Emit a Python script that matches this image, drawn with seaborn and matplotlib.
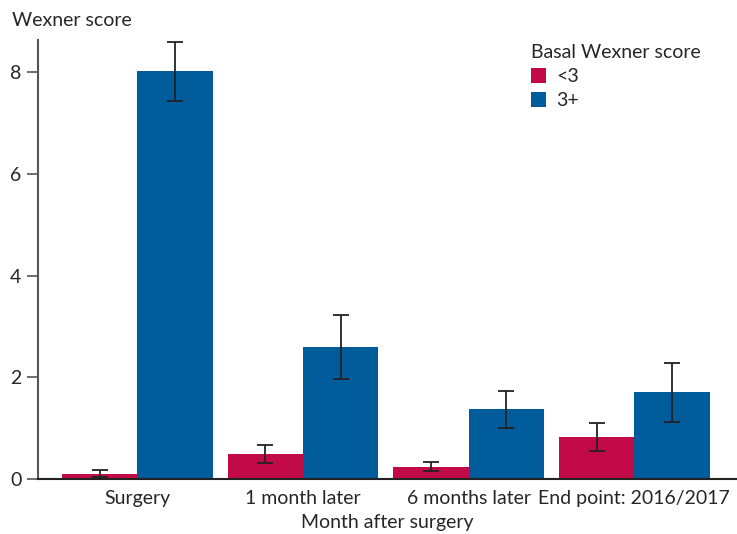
import numpy as np
import pandas as pd
import matplotlib
matplotlib.use("Agg")
import matplotlib.pyplot as plt
import seaborn as sns

# data
periods = ["Surgery", "1 month later", "6 months later", "End point: 2016/2017"]
groups = ["<3", "3+"]
mean_low = [0.10, 0.49, 0.24, 0.83]
mean_high = [8.02, 2.59, 1.37, 1.71]
err_low = [0.07, 0.18, 0.09, 0.28]
err_high = [0.58, 0.63, 0.36, 0.58]
yticks = [0, 2, 4, 6, 8]

colors = ["#C20A48", "#005C9A"]

sns.set_style("white")
plt.rcParams["font.family"] = ["Lato", "DejaVu Sans"]

df = pd.DataFrame({
    "period": periods * 2,
    "group": [groups[0]] * 4 + [groups[1]] * 4,
    "score": mean_low + mean_high,
})

fig = plt.figure(figsize=(7.37, 5.34), dpi=100)
ax = fig.add_axes([0.0516, 0.103, 0.9484, 0.822])

sns.barplot(data=df, x="period", y="score", hue="group", order=periods,
            hue_order=groups, palette=colors, width=0.91, saturation=1,
            errorbar=None, linewidth=0, ax=ax)

# error bars on the bar centres
bars = [p for p in ax.patches if p.get_height() > 0][:8]
errs = err_low + err_high
for b, e in zip(bars, errs):
    cx = b.get_x() + b.get_width() / 2
    ax.errorbar(cx, b.get_height(), yerr=e, color="#222222", lw=1.3,
                capsize=6, capthick=1.3)

ax.set_xlim(-0.6, 3.62)
ax.set_ylim(0, 8.63)
ax.set_yticks(yticks)
ax.tick_params(axis="y", length=8, width=1.2, color="#555555", labelsize=14, pad=4, left=True)
ax.tick_params(axis="x", length=0, labelsize=14, pad=8)
sns.despine(ax=ax)
ax.spines["left"].set_color("#555555")
ax.spines["left"].set_linewidth(1.5)
ax.spines["bottom"].set_color("#222222")
ax.spines["bottom"].set_linewidth(1.5)
ax.set_xlabel("Month after surgery", fontsize=14, labelpad=5)
ax.set_ylabel("")
fig.text(0.016, 0.962, "Wexner score", fontsize=14, va="center", ha="left")

leg = ax.legend(title="Basal Wexner score", loc="upper left",
                bbox_to_anchor=(0.68, 1.03), frameon=False, fontsize=14,
                title_fontsize=14, handlelength=0.8, handleheight=0.8,
                handletextpad=0.5, labelspacing=0.35, alignment="left")

fig.savefig("out.png", dpi=100)
